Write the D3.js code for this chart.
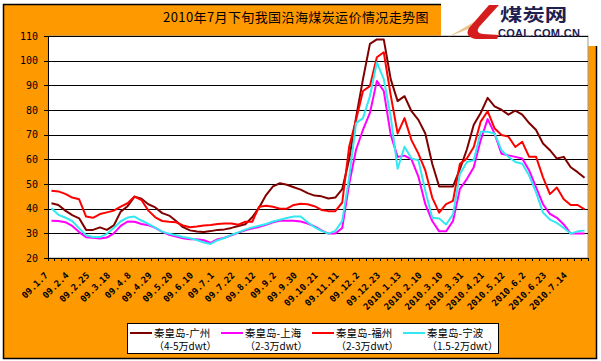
<!DOCTYPE html>
<html><head><meta charset="utf-8">
<script src="https://cdn.jsdelivr.net/npm/d3@7/dist/d3.min.js"></script>
<style>body{margin:0;background:#fff}svg{display:block}</style>
</head><body>
<svg id="c" width="601" height="361"></svg>
<script>
const title = "2010年7月下旬我国沿海煤炭运价情况走势图";
const dates = ["09.1.7","09.1.14","09.1.21","09.2.4","09.2.11","09.2.18","09.2.25","09.3.4","09.3.11","09.3.18",
"09.3.25","09.4.1","09.4.8","09.4.15","09.4.22","09.4.29","09.5.6","09.5.13","09.5.20","09.5.27",
"09.6.3","09.6.10","09.6.17","09.6.24","09.7.1","09.7.8","09.7.15","09.7.22","09.7.29","09.8.5",
"09.8.12","09.8.19","09.8.26","09.9.2","09.9.9","09.9.16","09.9.30","09.10.7","09.10.14","09.10.21",
"09.10.28","09.11.4","09.11.11","09.11.18","09.11.25","09.12.2","09.12.9","09.12.16","09.12.23","09.12.30",
"2010.1.6","2010.1.13","2010.1.20","2010.1.27","2010.2.10","2010.2.24","2010.3.3","2010.3.10","2010.3.17","2010.3.24",
"2010.3.31","2010.4.7","2010.4.14","2010.4.21","2010.4.28","2010.5.5","2010.5.12","2010.5.19","2010.5.26","2010.6.2",
"2010.6.9","2010.6.16","2010.6.23","2010.6.30","2010.7.7","2010.7.14","2010.7.21","2010.7.28"];
const tickLabels = ["09.1.7","09.2.4","09.2.25","09.3.18","09.4.8","09.4.29","09.5.20","09.6.10","09.7.1","09.7.22",
"09.8.12","09.9.2","09.9.30","09.10.21","09.11.11","09.12.2","09.12.23","2010.1.13","2010.2.10","2010.3.10",
"2010.3.31","2010.4.21","2010.5.12","2010.6.2","2010.6.23","2010.7.14"];
const yTicks = [20,30,40,50,60,70,80,90,100,110];
const guangzhou = [42.2,41.5,39.2,37.4,36.1,31.4,31.4,32.4,31.4,33.2,
38.8,41,44.9,44,41.8,40.5,38.2,37.2,35,32.5,
31.2,30.7,30.5,30.9,31.4,31.6,32.2,33,33.7,36.5,
40.5,45.5,49,50.3,49.7,48.7,47.7,46.3,45.3,45,
44.1,44.5,47.9,60,77,92.5,106.8,108.6,108.6,92.5,
83.6,85.6,79.5,76,70.5,58.2,49,49,49,56,
64,74,78.8,84.9,81.5,80.1,78.1,79.7,78.1,74.7,
71.9,66.4,63.7,60.3,61,56.8,54.8,52.5];
const shanghai = [35.1,35,34.5,33,30.5,28.4,28.2,27.9,28.3,30,
33,34.8,34.7,33.8,33.3,32.2,30.6,29.4,28.7,28,
27.6,27.6,27.2,26.1,27.6,28.2,29.2,30.3,31.2,32,
32.6,33.5,34.5,35.1,35.1,35.1,34.8,34,32.8,31.2,
29.9,29.9,32.2,50,64,72,78.8,91.8,87.7,70,
61,61.5,60,53,41.8,35,30.8,30.8,35,48,
52,56.8,67.8,76.3,70.5,62.3,61.6,61,60.3,55.5,
48.6,41.8,37.9,36.3,33.6,29.9,29.9,29.9];
const fuzhou = [47.3,47,46,44.5,43.8,36.8,36.3,37.8,38.5,39.2,
40.8,42.2,44.9,43.5,39.2,36.5,35,34.7,34.5,33.2,
32.5,32.8,33.2,33.4,33.8,34,34,33.5,34.7,34.7,
40.8,41.2,40.8,40,40,41.5,42,41.8,41,39.5,
39,39,42.5,65.1,76,87.7,89.7,101.4,103.4,86,
70.5,76.7,67.8,62.3,55.5,44.5,38.4,41.8,43.2,58.2,
60.3,65,75.3,79.5,72.6,69.9,69.2,65,67.1,61,
61,52.7,45.9,48.6,43.8,41.5,41.5,39.7];
const ningbo = [40.2,37.5,36.4,35,32,29.2,28.5,28.5,29.8,32.2,
34.9,36.4,36.8,35.2,33.8,32.3,30.7,29.8,29.2,28.5,
28,27.3,26.3,25.7,27.2,28.1,29.4,30.4,31.5,32.4,
33.1,33.8,34.8,35.5,36.2,36.8,36.8,34.5,32.5,31,
29.9,31,35,52.7,74.7,76.7,85.6,99.3,92.5,77.4,
56.2,65.1,60.3,59.6,47.3,36.3,36,33.6,37.7,54.1,
58.9,59.6,71.2,71.2,70.5,63.7,61,58.9,58.2,53.4,
46.6,38.4,35.6,34.2,32.2,29.9,30.8,31.1];
const seriesNames = ["秦皇岛-广州","秦皇岛-上海","秦皇岛-福州","秦皇岛-宁波"];
const seriesSub = ["（4-5万dwt）","（2-3万dwt）","（2-3万dwt）","（1.5-2万dwt）"];
const seriesColors = ["#800000","#ff00ff","#ff0000","#33e8f0"];
const seriesData = [guangzhou, shanghai, fuzhou, ningbo];

const svg = d3.select("#c");
const L=48,R=588,T=36,B=258;
svg.append("rect").attr("x",3.5).attr("y",4.5).attr("width",593).attr("height",354).attr("fill","#ff9900").attr("stroke","#000").attr("stroke-width",1.5);
svg.append("rect").attr("x",441).attr("y",0).attr("width",160).attr("height",46).attr("fill","#fff");
svg.append("rect").attr("x",L).attr("y",T).attr("width",R-L).attr("height",B-T).attr("fill","#fff").attr("stroke","#999").attr("stroke-width",1);

const x = d3.scaleBand().domain(dates).range([L,R]).padding(0);
const y = d3.scaleLinear().domain([20,110]).range([B,T]);
const bw = x.bandwidth();

svg.append("g").attr("transform",`translate(${L},0)`)
  .call(d3.axisLeft(y).tickValues(yTicks.filter(v=>v>20)).tickSize(-(R-L)).tickFormat(""))
  .call(g=>{g.select(".domain").remove();g.selectAll("line").attr("stroke","#000").attr("shape-rendering","crispEdges");});
svg.append("g").attr("transform",`translate(${L},0)`)
  .call(d3.axisLeft(y).tickValues(yTicks).tickSize(4).tickSizeOuter(0).tickPadding(6))
  .call(g=>{g.select(".domain").attr("stroke","#000").attr("shape-rendering","crispEdges");
    g.selectAll("line").attr("stroke","#000").attr("shape-rendering","crispEdges");
    g.selectAll("text").attr("font-family","DejaVu Sans Mono").attr("font-size","10px").attr("fill","#000");});
svg.append("g").attr("transform",`translate(0,${B})`)
  .call(d3.axisBottom(x).tickValues([]).tickSizeOuter(0))
  .call(g=>g.select(".domain").attr("stroke","#000").attr("shape-rendering","crispEdges"));
svg.append("g").selectAll("line").data(dates.concat(["__end"])).join("line")
  .attr("x1",d=>d==="__end"?R:x(d)).attr("x2",d=>d==="__end"?R:x(d))
  .attr("y1",B).attr("y2",B+3).attr("stroke","#000").attr("shape-rendering","crispEdges");
svg.append("g").selectAll("text").data(tickLabels).join("text")
  .attr("transform",d=>`translate(${x(d)+bw/2-3},${B+18}) rotate(-45)`)
  .attr("text-anchor","end").attr("font-family","DejaVu Sans Mono").attr("font-weight","bold")
  .attr("font-size","9px").attr("fill","#000").text(d=>d);

const line = d3.line().x((v,i)=>x(dates[i])+bw/2).y(v=>y(v));
seriesData.forEach((s,k)=>{
  svg.append("path").datum(s).attr("d",line).attr("fill","none")
    .attr("stroke",seriesColors[k]).attr("stroke-width",2).attr("stroke-linejoin","round");
});

svg.append("text").attr("x",296).attr("y",22).attr("text-anchor","middle")
  .attr("font-family","Noto Sans CJK SC").attr("font-size","13px").attr("letter-spacing","0.4px").attr("fill","#000").text(title);

svg.append("path").attr("d","M448 37 L479 19 L476 26 Z").attr("fill","#e9c98f");
svg.append("path").attr("d","M489 5 L499 5 L479 27 Q475 33 483 34 L499 35 L497 39 L476 39 Q464 37 469 28 Z").attr("fill","#d51d1d");
svg.append("text").attr("transform","translate(500,21) scale(1.4,1.1)")
  .attr("font-family","Noto Sans CJK SC").attr("font-weight","bold").attr("font-size","16px")
  .attr("fill","#1e2050").text("煤炭网");
svg.append("text").attr("x",498).attr("y",37).attr("font-family","Liberation Sans").attr("font-weight","bold")
  .attr("font-size","11px").attr("letter-spacing","0.3px").attr("fill","#1e2050").text("COAL.COM.CN");

svg.append("rect").attr("x",127.5).attr("y",323.5).attr("width",371).attr("height",30).attr("fill","#fff").attr("stroke","#000");
const lx = [130,221,312,403];
const lg = svg.append("g").selectAll("g").data(seriesNames).join("g").attr("transform",(d,i)=>`translate(${lx[i]},0)`);
lg.append("line").attr("x1",0).attr("x2",22).attr("y1",333).attr("y2",333).attr("stroke",(d,i)=>seriesColors[i]).attr("stroke-width",2);
lg.append("text").attr("x",24).attr("y",336.5).attr("font-family","Noto Sans CJK SC").attr("font-size","10.5px").attr("fill","#000").text(d=>d);
lg.append("text").attr("x",24).attr("y",350).attr("font-family","Noto Sans CJK SC").attr("font-size","10px").attr("fill","#000").text((d,i)=>seriesSub[i]);
</script>
</body></html>
